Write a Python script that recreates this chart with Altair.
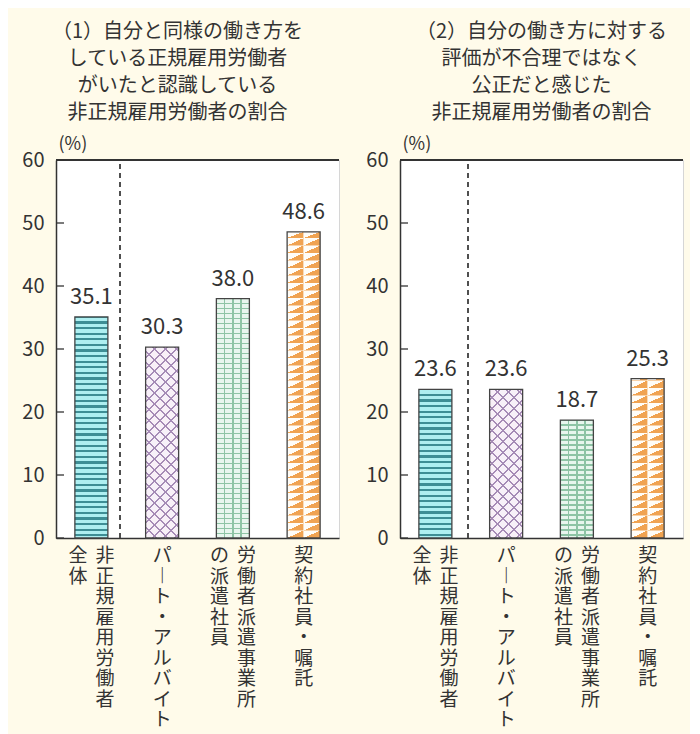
import math
import altair as alt
import pandas as pd

# ---------------- data ----------------
categories = ["非正規雇用労働者全体", "パート・アルバイト", "労働者派遣事業所の派遣社員", "契約社員・嘱託"]
panel1_values = [35.1, 30.3, 38.0, 48.6]
panel2_values = [23.6, 23.6, 18.7, 25.3]
panel1_title = ["（1）自分と同様の働き方を", "している正規雇用労働者", "がいたと認識している", "非正規雇用労働者の割合"]
panel2_title = ["（2）自分の働き方に対する", "評価が不合理ではなく", "公正だと感じた", "非正規雇用労働者の割合"]
label_right_cols = ["非正規雇用労働者", "パート・アルバイト", "労働者派遣事業所", "契約社員・嘱託"]
label_left_cols = ["全体", "", "の派遣社員", ""]
y_ticks = [0, 10, 20, 30, 40, 50, 60]

# ---------------- style ----------------
FONT = "Noto Sans CJK JP"
TXT = "#333333"
BG = "#fffbea"
W, H = 283, 378
PPU = H / 60.0
BW = 33.0
STEP = W / 4.0
P_INNER = 1 - BW / STEP
P_OUTER = P_INNER / 2

TEAL_D, TEAL_L = "#3e8e95", "#aeeff1"
PURP_D, PURP_L = "#a68bb6", "#f8f0f8"
GREEN_D, GREEN_L = "#8ec4a5", "#e8f6ee"
ORANGE, WHITE = "#f0a352", "#fffdf8"
CLEAR = "rgba(255,255,255,0)"


def lines_gradient(alpha, beta, gamma, n, line_color, bg_color, frac):
    """linear gradient (bbox units) with thin lines centred at k/n along t = alpha*u + beta*v + gamma"""
    L2 = alpha * alpha + beta * beta
    dx, dy = alpha / L2, beta / L2
    if gamma == 0:
        x1, y1 = 0.0, 0.0
    elif beta != 0:
        x1, y1 = 0.0, -gamma / beta
    else:
        x1, y1 = -gamma / alpha, 0.0
    stops = []
    half = frac / 2.0
    for k in range(0, int(math.ceil(n)) + 2):
        a = max(0.0, (k - half) / n)
        b = min(1.0, (k + half) / n)
        if a >= 1.0:
            break
        if b <= 0:
            continue
        stops += [(a, bg_color), (a, line_color), (b, line_color), (b, bg_color)]
    stops = [(0.0, bg_color)] + stops + [(1.0, bg_color)]
    return alt.Gradient(
        gradient="linear",
        stops=[alt.GradientStop(offset=round(o, 5), color=c) for o, c in stops],
        x1=round(x1, 5), y1=round(y1, 5), x2=round(x1 + dx, 5), y2=round(y1 + dy, 5),
    )


def xenc():
    return alt.X("cat:N", sort=categories,
                 scale=alt.Scale(domain=categories, paddingInner=P_INNER, paddingOuter=P_OUTER),
                 axis=alt.Axis(labels=False, ticks=False, title=None, domainColor=TXT,
                               domainWidth=1.5, grid=False))


def yenc(field="v:Q"):
    return alt.Y(field, scale=alt.Scale(domain=[0, 60], nice=False),
                 axis=alt.Axis(values=y_ticks, ticks=False, grid=False, labelFontSize=20,
                               labelFont=FONT, labelColor=TXT, labelPadding=12,
                               domainColor=TXT, domainWidth=1.5, minExtent=40, maxExtent=40,
                               title="(%)", titleAngle=0, titleX=2, titleY=-7,
                               titleAlign="left", titleBaseline="bottom", titleFontSize=18,
                               titleFont=FONT, titleFontWeight="normal", titleColor=TXT))


def make_panel(values, title, dash_x, title_dx):
    df = pd.DataFrame({"cat": categories, "v": values})
    base = alt.Chart(df)
    layers = []

    # 1. teal waves (horizontal lines)
    h0 = values[0] * PPU
    g_teal = lines_gradient(0, 1, 0, h0 / 5.6, TEAL_D, TEAL_L, 0.4)
    layers.append(base.transform_filter(alt.datum.cat == categories[0])
                  .mark_bar(fill=g_teal, strokeWidth=0).encode(x=xenc(), y=yenc()))

    # 2. purple cross-hatch
    h1 = values[1] * PPU
    n1 = (BW + h1) / 11.0
    g_p1 = lines_gradient(BW / (BW + h1), -h1 / (BW + h1), h1 / (BW + h1), n1, PURP_D, PURP_L, 0.19)
    g_p2 = lines_gradient(BW / (BW + h1), h1 / (BW + h1), 0, n1, PURP_D, CLEAR, 0.19)
    f1 = base.transform_filter(alt.datum.cat == categories[1])
    layers.append(f1.mark_bar(fill=g_p1, strokeWidth=0).encode(x=xenc(), y=yenc()))
    layers.append(f1.mark_bar(fill=g_p2, strokeWidth=0).encode(x=xenc(), y=yenc()))

    # 3. green grid
    h2 = values[2] * PPU
    g_g1 = lines_gradient(1, 0, 0, 4, GREEN_D, GREEN_L, 0.18)
    g_g2 = lines_gradient(0, 1, 0, h2 / 5.0, GREEN_D, CLEAR, 0.28)
    f2 = base.transform_filter(alt.datum.cat == categories[2])
    layers.append(f2.mark_bar(fill=g_g1, strokeWidth=0).encode(x=xenc(), y=yenc()))
    layers.append(f2.mark_bar(fill=g_g2, strokeWidth=0).encode(x=xenc(), y=yenc()))

    # 4. orange triangles: cells of the last bar
    rh = 7.5 / PPU
    v3 = values[3]
    rows = []
    i = 0
    while i * rh < v3 - 1e-9:
        for col in ["a", "b"]:
            rows.append({"cat": categories[3], "col": col, "y0": i * rh, "y1": min((i + 1) * rh, v3)})
        i += 1
    cells = pd.DataFrame(rows)
    g_or = alt.Gradient(gradient="linear",
                        stops=[alt.GradientStop(offset=0, color=WHITE),
                               alt.GradientStop(offset=0.5, color=WHITE),
                               alt.GradientStop(offset=0.5, color=ORANGE),
                               alt.GradientStop(offset=1, color=ORANGE)],
                        x1=0, y1=0, x2=1, y2=1)
    layers.append(alt.Chart(cells).mark_bar(fill=g_or, strokeWidth=0).encode(
        x=xenc(), xOffset=alt.XOffset("col:N", scale=alt.Scale(paddingInner=0, paddingOuter=0)),
        y=yenc("y0:Q"), y2="y1:Q"))

    # outlines
    layers.append(base.mark_bar(fill="transparent", stroke="#444444", strokeWidth=1.3)
                  .encode(x=xenc(), y=yenc()))
    # value labels
    layers.append(base.mark_text(dy=-8, baseline="bottom", fontSize=22, font=FONT, color=TXT)
                  .encode(x=xenc(), y=yenc(), text=alt.Text("v:Q", format=".1f")))
    # dashed separator
    layers.append(base.mark_rule(strokeDash=[5, 4], color="#444444", strokeWidth=1)
                  .encode(x=alt.value(dash_x), y=alt.value(4), y2=alt.value(H)))
    # inward ticks
    tdf = pd.DataFrame({"t": y_ticks})
    layers.append(alt.Chart(tdf).mark_rule(color=TXT, strokeWidth=1.3)
                  .encode(y=alt.Y("t:Q", scale=alt.Scale(domain=[0, 60], nice=False)),
                          x=alt.value(0), x2=alt.value(8)))
    # top frame line
    layers.append(base.mark_rule(color=TXT, strokeWidth=1.5)
                  .encode(x=alt.value(0), x2=alt.value(W), y=alt.value(0)))
    # vertical category labels
    lab = []
    for c, r, l in zip(categories, label_right_cols, label_left_cols):
        vert = lambda s: "\n".join("︱" if ch == "ー" else ch for ch in s)
        if l:
            lab.append({"cat": c, "pos": "right", "t": vert(r)})
            lab.append({"cat": c, "pos": "left", "t": vert(l)})
        else:
            lab.append({"cat": c, "pos": "single", "t": vert(r)})
    ldf = pd.DataFrame(lab)
    for pos, dx in [("single", 0), ("right", 13.5), ("left", -13.5)]:
        layers.append(alt.Chart(ldf).transform_filter(alt.datum.pos == pos)
                      .mark_text(dx=dx, baseline="top", align="center", fontSize=19, lineHeight=20.5,
                                 lineBreak="\n", font=FONT, color=TXT)
                      .encode(x=xenc(), y=alt.value(H + 9), text="t:N"))

    return alt.layer(*layers).properties(
        width=W, height=H,
        title=alt.TitleParams(text=title, fontSize=20, lineHeight=27, font=FONT, color=TXT,
                              fontWeight="normal", anchor="middle", dx=title_dx, offset=12),
    )


p1 = make_panel(panel1_values, panel1_title, 64, -20)
p2 = make_panel(panel2_values, panel2_title, 68, 0)

chart = alt.hconcat(p1, p2, spacing=18).properties(
    background=BG, padding={"left": 7, "top": 13, "right": 5, "bottom": 14}
).configure_view(fill="white", stroke="#d6d6d6", strokeWidth=1).resolve_scale(y="independent")

chart.save("out.html", embed_options={"renderer": "svg", "actions": False})
